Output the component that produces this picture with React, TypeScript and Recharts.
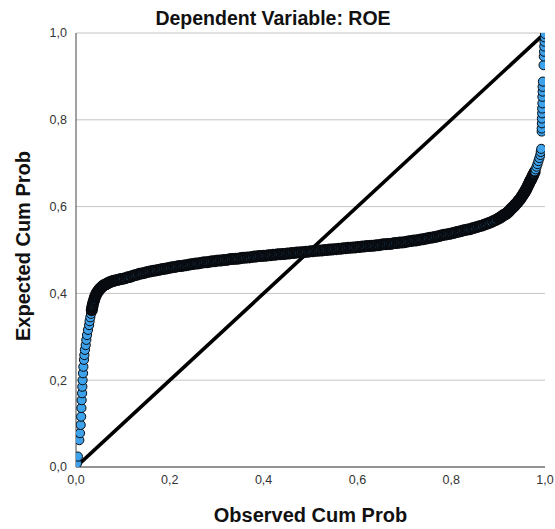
import { ScatterChart, Scatter, XAxis, YAxis, CartesianGrid } from "recharts";

// P-P plot of regression standardized residuals.
// [observed cum prob, expected cum prob]

const TITLE = "Dependent Variable: ROE";
const X_LABEL = "Observed Cum Prob";
const Y_LABEL = "Expected Cum Prob";

const X_TICKS = [0, 0.2, 0.4, 0.6, 0.8, 1];
const Y_TICKS = [0, 0.2, 0.4, 0.6, 0.8, 1];

// sparse lower tail, each point readable on its own
const LEFT_TAIL: [number, number][] = [
  [0.002, 0.008], [0.004, 0.024], [0.007, 0.062], [0.0085, 0.078], [0.010, 0.097],
  [0.011, 0.116], [0.0115, 0.136], [0.012, 0.154], [0.013, 0.170], [0.0135, 0.185],
  [0.014, 0.200], [0.015, 0.216], [0.0157, 0.231], [0.017, 0.247], [0.0178, 0.258],
  [0.019, 0.270], [0.0207, 0.281], [0.022, 0.293], [0.0235, 0.304], [0.0256, 0.316],
  [0.028, 0.327], [0.029, 0.336], [0.0305, 0.345], [0.032, 0.353],
];

// the knee where the band turns flat
const LEFT_BEND: [number, number][] = [
  [0.0335, 0.361], [0.0345, 0.366],
  [0.035, 0.370], [0.036, 0.375], [0.0373, 0.380], [0.0387, 0.385], [0.040, 0.390],
  [0.0415, 0.394], [0.043, 0.398], [0.045, 0.402], [0.047, 0.405], [0.049, 0.408],
  [0.051, 0.411], [0.0535, 0.413], [0.056, 0.416], [0.0585, 0.418], [0.061, 0.420],
  [0.064, 0.421], [0.067, 0.423], [0.070, 0.425], [0.0735, 0.426], [0.077, 0.428],
  [0.0805, 0.429], [0.084, 0.430], [0.088, 0.431], [0.092, 0.432], [0.096, 0.433],
  [0.100, 0.434],
];

// dense flat band, first half
const BODY_LOW: [number, number][] = [
  [0.105, 0.435], [0.110, 0.437], [0.115, 0.438], [0.120, 0.440], [0.125, 0.442],
  [0.130, 0.443], [0.135, 0.445], [0.140, 0.446], [0.145, 0.447], [0.150, 0.449],
  [0.155, 0.450], [0.160, 0.451], [0.165, 0.452], [0.170, 0.453], [0.175, 0.454],
  [0.180, 0.455], [0.185, 0.456], [0.190, 0.457], [0.195, 0.458], [0.200, 0.459],
  [0.205, 0.460], [0.210, 0.461], [0.215, 0.462], [0.220, 0.463], [0.225, 0.463],
  [0.230, 0.464], [0.235, 0.465], [0.240, 0.466], [0.245, 0.467], [0.250, 0.468],
  [0.255, 0.469], [0.260, 0.469], [0.265, 0.470], [0.270, 0.471], [0.275, 0.472],
  [0.280, 0.472], [0.285, 0.473], [0.290, 0.474], [0.295, 0.474], [0.300, 0.475],
  [0.305, 0.476], [0.310, 0.476], [0.315, 0.477], [0.320, 0.477], [0.325, 0.478],
  [0.330, 0.479], [0.335, 0.479], [0.340, 0.480], [0.345, 0.480], [0.350, 0.481],
  [0.355, 0.482], [0.360, 0.482], [0.365, 0.483], [0.370, 0.483], [0.375, 0.484],
  [0.380, 0.485], [0.385, 0.485], [0.390, 0.486], [0.395, 0.486], [0.400, 0.487],
  [0.405, 0.487], [0.410, 0.488], [0.415, 0.488], [0.420, 0.489], [0.425, 0.489],
  [0.430, 0.490], [0.435, 0.490], [0.440, 0.491], [0.445, 0.491], [0.450, 0.492],
  [0.455, 0.492], [0.460, 0.493], [0.465, 0.493], [0.470, 0.494], [0.475, 0.494],
  [0.480, 0.495], [0.485, 0.495], [0.490, 0.496], [0.495, 0.496], [0.500, 0.497],
];

// dense flat band, second half
const BODY_HIGH: [number, number][] = [
  [0.505, 0.497], [0.510, 0.498], [0.515, 0.498], [0.520, 0.499], [0.525, 0.499],
  [0.530, 0.500], [0.535, 0.500], [0.540, 0.501], [0.545, 0.501], [0.550, 0.502],
  [0.555, 0.502], [0.560, 0.503], [0.565, 0.503], [0.570, 0.504], [0.575, 0.504],
  [0.580, 0.505], [0.585, 0.505], [0.590, 0.506], [0.595, 0.506], [0.600, 0.507],
  [0.605, 0.507], [0.610, 0.508], [0.615, 0.508], [0.620, 0.509], [0.625, 0.509],
  [0.630, 0.510], [0.635, 0.510], [0.640, 0.511], [0.645, 0.511], [0.650, 0.512],
  [0.655, 0.513], [0.660, 0.513], [0.665, 0.514], [0.670, 0.514], [0.675, 0.515],
  [0.680, 0.516], [0.685, 0.516], [0.690, 0.517], [0.695, 0.517], [0.700, 0.518],
  [0.705, 0.519], [0.710, 0.520], [0.715, 0.521], [0.720, 0.522], [0.725, 0.522],
  [0.730, 0.523], [0.735, 0.524], [0.740, 0.525], [0.745, 0.526], [0.750, 0.527],
  [0.755, 0.528], [0.760, 0.529], [0.765, 0.530], [0.770, 0.531], [0.775, 0.532],
  [0.780, 0.534], [0.785, 0.535], [0.790, 0.536], [0.795, 0.537], [0.800, 0.538],
  [0.805, 0.539], [0.810, 0.541], [0.815, 0.542], [0.820, 0.543], [0.825, 0.545],
  [0.830, 0.546], [0.835, 0.547], [0.840, 0.548], [0.845, 0.550], [0.850, 0.551],
  [0.855, 0.553], [0.860, 0.555], [0.865, 0.556], [0.870, 0.558], [0.875, 0.560],
  [0.880, 0.562], [0.885, 0.564], [0.890, 0.567], [0.895, 0.569], [0.900, 0.572],
];

// upper bend, still dense
const RIGHT_BEND: [number, number][] = [
  [0.9025, 0.574], [0.905, 0.575], [0.9075, 0.577], [0.910, 0.579], [0.9125, 0.581],
  [0.915, 0.582], [0.9175, 0.584], [0.920, 0.586], [0.922, 0.588], [0.924, 0.590],
  [0.926, 0.593], [0.928, 0.595], [0.930, 0.597], [0.932, 0.599], [0.934, 0.601],
  [0.936, 0.604], [0.938, 0.606], [0.940, 0.608], [0.942, 0.611], [0.944, 0.614],
  [0.946, 0.616], [0.948, 0.619], [0.950, 0.622], [0.9515, 0.625], [0.953, 0.627],
  [0.9545, 0.630], [0.956, 0.633], [0.9575, 0.635], [0.959, 0.638], [0.960, 0.640],
  [0.9615, 0.643], [0.963, 0.647], [0.9645, 0.650], [0.966, 0.653], [0.9675, 0.657],
  [0.969, 0.660], [0.970, 0.662], [0.9715, 0.665], [0.973, 0.669], [0.9745, 0.672],
  [0.976, 0.675], [0.978, 0.680],
];

// sparse upper tail, stacked near x = 1
const RIGHT_TAIL: [number, number][] = [
  [0.980, 0.686], [0.982, 0.692], [0.984, 0.698], [0.986, 0.705], [0.988, 0.712],
  [0.990, 0.719], [0.991, 0.726], [0.992, 0.733],
  [0.993, 0.773], [0.993, 0.780], [0.9935, 0.792], [0.9935, 0.803], [0.994, 0.815],
  [0.994, 0.826], [0.9945, 0.838], [0.9945, 0.853], [0.995, 0.865], [0.995, 0.876],
  [0.9955, 0.888],
  [0.997, 0.926], [0.9975, 0.946], [0.998, 0.957], [0.9985, 0.969], [0.999, 0.980],
  [0.9995, 0.990], [1.0, 0.998],
];

const DIAGONAL: [number, number][] = [
  [0, 0],
  [1, 1],
];

const C = {
  dotFill: "#3DA2EA",
  dotStroke: "#080b10",
  grid: "#c4c4c4",
  axis: "#444444",
  tick: "#333333",
  text: "#111111",
};

const FONT = "'Liberation Sans', Arial, sans-serif";

// dense rows overlap so tightly that only the outlines show, as in the original
const toRows = (pts: [number, number][], dense: boolean) =>
  pts.map(([x, y]) => ({ x, y, dense }));

const points = [
  ...toRows(LEFT_TAIL, false),
  ...toRows(LEFT_BEND, true),
  ...toRows(BODY_LOW, true),
  ...toRows(BODY_HIGH, true),
  ...toRows(RIGHT_BEND, true),
  ...toRows(RIGHT_TAIL, false),
];

const fmt = (v: number) => v.toFixed(1).replace(".", ",");

function Dot(props: any) {
  const { cx, cy, payload } = props;
  if (cx == null || cy == null) return <g />;
  const dense = payload && payload.dense;
  return (
    <circle
      cx={cx}
      cy={cy}
      r={dense ? 4.7 : 4.6}
      fill={C.dotFill}
      stroke={C.dotStroke}
      strokeWidth={dense ? 2.6 : 1}
    />
  );
}

export default function App() {
  return (
    <div
      style={{
        position: "absolute",
        left: 0,
        top: 0,
        width: 555,
        height: 529,
        background: "#fff",
        fontFamily: FONT,
      }}
    >
      <ScatterChart
        width={555}
        height={529}
        margin={{ top: 33, right: 10, bottom: 32, left: 30 }}
      >
        <CartesianGrid stroke={C.grid} vertical={false} />
        <XAxis
          type="number"
          dataKey="x"
          domain={[0, 1]}
          ticks={X_TICKS}
          tickFormatter={fmt}
          tickLine={false}
          axisLine={{ stroke: C.axis }}
          tick={{ fontSize: 12.5, fill: C.tick, fontFamily: FONT }}
          height={30}
          allowDataOverflow
        />
        <YAxis
          type="number"
          dataKey="y"
          domain={[0, 1]}
          ticks={Y_TICKS}
          tickFormatter={fmt}
          tickLine={false}
          axisLine={{ stroke: C.axis }}
          tick={{ fontSize: 12.5, fill: C.tick, fontFamily: FONT }}
          tickMargin={3}
          width={46}
          allowDataOverflow
        />
        {/* reference diagonal, drawn under the points */}
        <Scatter
          data={toRows(DIAGONAL, false)}
          line={{ stroke: "#000", strokeWidth: 3.6 }}
          shape={() => <g />}
          isAnimationActive={false}
        />
        <Scatter data={points} shape={Dot} isAnimationActive={false} />
      </ScatterChart>

      <div
        style={{
          position: "absolute",
          left: 0,
          top: 6,
          width: 546,
          textAlign: "center",
          fontSize: 19.5,
          lineHeight: "24px",
          fontWeight: 700,
          color: C.text,
        }}
      >
        {TITLE}
      </div>
      <div
        style={{
          position: "absolute",
          left: 76,
          top: 503,
          width: 469,
          textAlign: "center",
          fontSize: 20,
          lineHeight: "24px",
          fontWeight: 700,
          color: C.text,
        }}
      >
        {X_LABEL}
      </div>
      <div
        style={{
          position: "absolute",
          left: 22.7 - 150,
          top: 246 - 12,
          width: 300,
          height: 24,
          textAlign: "center",
          fontSize: 20,
          lineHeight: "24px",
          fontWeight: 700,
          color: C.text,
          transform: "rotate(-90deg)",
          transformOrigin: "center",
        }}
      >
        {Y_LABEL}
      </div>
    </div>
  );
}
